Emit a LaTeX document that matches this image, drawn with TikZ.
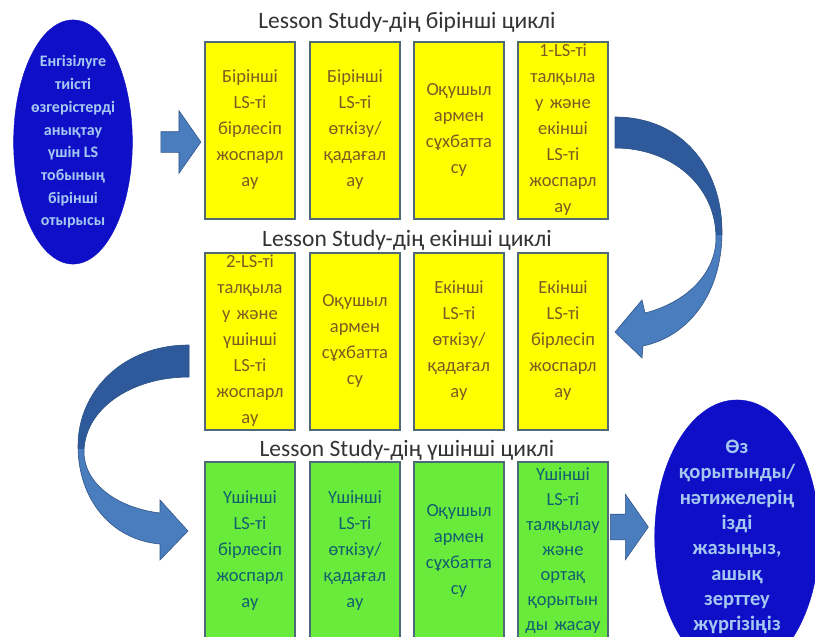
\documentclass[tikz,border=0pt]{standalone}
\usepackage{fontspec}
\setmainfont{Carlito}
\usetikzlibrary{shapes.geometric,shapes.arrows,positioning,calc}

\definecolor{boxyellow}{RGB}{255,255,0}
\definecolor{boxgreen}{RGB}{105,235,60}
\definecolor{yellowtext}{RGB}{125,92,35}
\definecolor{greentext}{RGB}{20,95,110}
\definecolor{ovalblue}{RGB}{15,15,200}
\definecolor{ovaltext}{RGB}{165,200,240}
\definecolor{arrowblue}{RGB}{74,125,190}
\definecolor{arrowdark}{RGB}{46,90,155}
\definecolor{arrowedge}{RGB}{50,85,135}
\definecolor{boxedge}{RGB}{80,105,120}

% ribbon outlines of the two bent arrows
\newcommand{\bendright}{(615,117) .. controls (682,117) and (722,168) .. (722,232) .. controls (722,292) and (690,336) .. (643,346) -- (642,358) -- (615,332) -- (642,300) -- (645,313) .. controls (688,302) and (716,272) .. (716,238) .. controls (716,186) and (672,148) .. (615,148) -- cycle}
\newcommand{\bendleft}{(189,345) .. controls (122,345) and (78,392) .. (78,446) .. controls (78,500) and (112,540) .. (160,544) -- (160,560) -- (188,531) -- (160,500) -- (160,513) .. controls (118,508) and (84,484) .. (84,452) .. controls (84,410) and (130,377) .. (189,377) -- cycle}

\begin{document}
\begin{tikzpicture}[x=1pt, y=-1pt,
    stepbox/.style={draw=boxedge, line width=2pt, minimum width=90, inner sep=0pt,
      text width=86, align=center, font=\fontsize{18.5}{26}\selectfont},
    ybox/.style={stepbox, fill=boxyellow, text=yellowtext, minimum height=177},
    gbox/.style={stepbox, fill=boxgreen, text=greentext, minimum height=178},
    cycletitle/.style={font=\fontsize{23.5}{27}\selectfont, text=black!80},
    oval/.style={ellipse, fill=ovalblue, draw=ovalblue, inner sep=0pt, text=ovaltext, align=center},
    flatarrow/.style={single arrow, fill=arrowblue, draw=arrowedge, line width=0.6pt,
      inner xsep=0pt, text height=0pt, text depth=0pt, single arrow tip angle=110}]
  \clip (0,0) rectangle (815,637);

  % first cycle
  \node[cycletitle] (t1) at (407,22) {Lesson Study-дің бірінші циклі};
  \node[ybox] (b11) at (250,130) {Бірінші\\LS-ті\\бірлесіп\\жоспарл\\ау};
  \node[ybox] (b12) at (355,130) {Бірінші\\LS-ті\\өткізу/\\қадағал\\ау};
  \node[ybox] (b13) at (459,130) {Оқушыл\\армен\\сұхбатта\\су};
  \node[ybox] (b14) at (563,130) {1-LS-ті\\талқыла\\у және\\екінші\\LS-ті\\жоспарл\\ау};

  % second cycle
  \node[cycletitle] (t2) at (407,240) {Lesson Study-дің екінші циклі};
  \node[ybox] (b21) at (250,341) {2-LS-ті\\талқыла\\у және\\үшінші\\LS-ті\\жоспарл\\ау};
  \node[ybox] (b22) at (355,341) {Оқушыл\\армен\\сұхбатта\\су};
  \node[ybox] (b23) at (459,341) {Екінші\\LS-ті\\өткізу/\\қадағал\\ау};
  \node[ybox] (b24) at (563,341) {Екінші\\LS-ті\\бірлесіп\\жоспарл\\ау};

  % third cycle
  \node[cycletitle] (t3) at (407,450) {Lesson Study-дің үшінші циклі};
  \node[gbox] (b31) at (250,551) {Үшінші\\LS-ті\\бірлесіп\\жоспарл\\ау};
  \node[gbox] (b32) at (355,551) {Үшінші\\LS-ті\\өткізу/\\қадағал\\ау};
  \node[gbox] (b33) at (459,551) {Оқушыл\\армен\\сұхбатта\\су};
  \node[gbox, font=\fontsize{18.5}{25}\selectfont] (b34) at (563,551) {Үшінші\\LS-ті\\талқылау\\және\\ортақ\\қорытын\\ды жасау};

  \node[oval, minimum width=117, minimum height=210, font=\bfseries\fontsize{16}{22.7}\selectfont]
    (start) at (73,142) {Енгізілуге\\тиісті\\өзгерістерді\\анықтау\\үшін LS\\тобының\\бірінші\\отырысы};
  \node[oval, minimum width=158, minimum height=236, font=\bfseries\fontsize{20.5}{25.3}\selectfont]
    (finish) at (737,537) {Өз\\қорытынды/\\нәтижелерің\\ізді\\жазыңыз,\\ашық\\зерттеу\\жүргізіңіз};

  \node[flatarrow, inner ysep=10pt, single arrow head extend=21pt, minimum height=40,
    right=28pt of start] (arr1) {};
  \node[flatarrow, inner ysep=12.5pt, single arrow head extend=20pt, minimum height=38,
    anchor=west] (arr3) at ($(b34.east)+(1,-24)$) {};

  \fill[arrowblue] \bendright;
  \begin{scope}
    \clip (600,0) rectangle (815,234);
    \fill[arrowdark] \bendright;
  \end{scope}
  \draw[arrowedge, line width=0.6pt] \bendright;

  \fill[arrowblue] \bendleft;
  \begin{scope}
    \clip (0,300) rectangle (200,448);
    \fill[arrowdark] \bendleft;
  \end{scope}
  \draw[arrowedge, line width=0.6pt] \bendleft;
\end{tikzpicture}
\end{document}
